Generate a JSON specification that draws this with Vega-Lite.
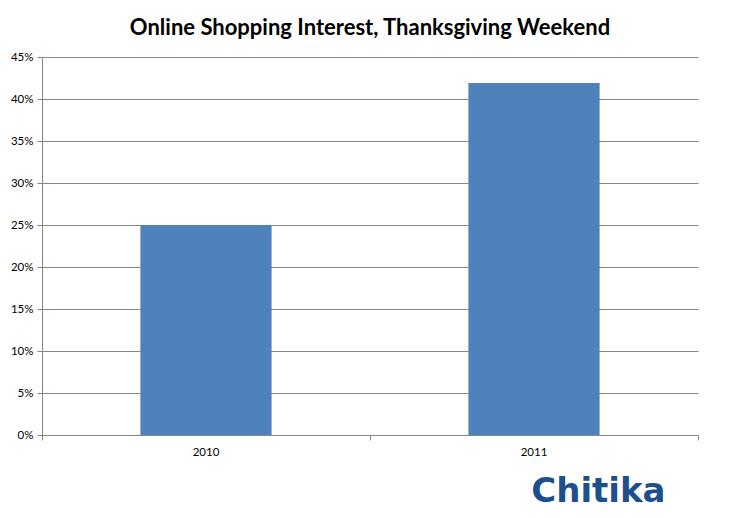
{
  "$schema": "https://vega.github.io/schema/vega-lite/v6.json",
  "width": 656,
  "height": 378,
  "autosize": {"type": "none"},
  "padding": {"left": 42, "top": 57, "right": 45, "bottom": 83},
  "background": "white",
  "title": {
    "text": "Online Shopping Interest, Thanksgiving Weekend",
    "font": "Lato",
    "fontSize": 22,
    "fontWeight": "bold",
    "color": "#000000",
    "anchor": "middle",
    "offset": 11
  },
  "data": {
    "values": [
      {"year": "2010", "share": 0.25},
      {"year": "2011", "share": 0.419}
    ]
  },
  "mark": {"type": "bar", "color": "#4f81bd", "width": {"band": 0.4}},
  "encoding": {
    "x": {
      "field": "year",
      "type": "nominal",
      "scale": {"paddingInner": 0, "paddingOuter": 0},
      "axis": {
        "labelAngle": 0,
        "bandPosition": 1,
        "tickExtra": true,
        "labelOffset": 0,
        "tickSize": 5,
        "tickColor": "#868686",
        "domainColor": "#868686",
        "labelFont": "Lato",
        "labelFontSize": 11.5,
        "labelColor": "#000000",
        "labelPadding": 6,
        "title": "Chitika",
        "titleFont": "DejaVu Sans",
        "titleFontWeight": "bold",
        "titleFontSize": 34,
        "titleColor": "#1c4f8c",
        "titleAnchor": "end",
        "titleAlign": "right",
        "titleX": 623,
        "titleY": 66,
        "titleBaseline": "alphabetic"
      }
    },
    "y": {
      "field": "share",
      "type": "quantitative",
      "scale": {"domain": [0, 0.45], "nice": false},
      "axis": {
        "values": [0, 0.05, 0.1, 0.15, 0.2, 0.25, 0.3, 0.35, 0.4, 0.45],
        "format": ".0%",
        "title": null,
        "tickSize": 5,
        "tickColor": "#868686",
        "domainColor": "#868686",
        "gridColor": "#868686",
        "labelFont": "Lato",
        "labelFontSize": 11.5,
        "labelColor": "#000000",
        "labelPadding": 4
      }
    }
  },
  "config": {
    "view": {"stroke": null}
  }
}
